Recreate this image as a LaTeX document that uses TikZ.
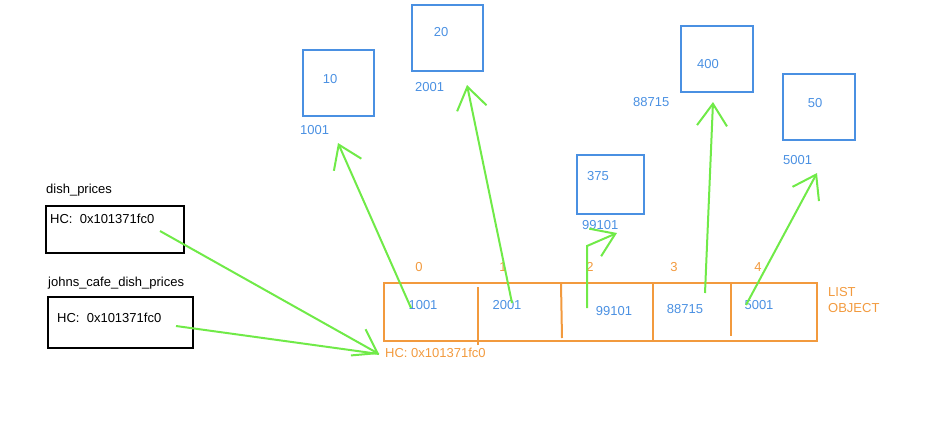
\documentclass[tikz,border=0pt]{standalone}
\usepackage{fontspec}
\setmainfont{Liberation Sans}
\usetikzlibrary{arrows.meta}

\definecolor{refblue}{RGB}{74,144,226}
\definecolor{reforange}{RGB}{242,154,62}
\definecolor{refgreen}{RGB}{112,234,72}

\tikzset{
  valbox/.style={draw=refblue,line width=2pt,inner sep=0pt},
  varbox/.style={draw,line width=2pt,inner sep=0pt},
  vartxt/.style={inner sep=0pt,anchor=base west},
  blu/.style={text=refblue,inner sep=0pt},
  org/.style={text=reforange,inner sep=0pt},
  ptr/.style={draw=refgreen,line width=2pt,-{Straight Barb[length=22pt,width=30pt,line width=2pt]}}
}

\begin{document}
\begin{tikzpicture}[x=1pt,y=-1pt,font=\fontsize{13}{15}\selectfont]
\useasboundingbox (0,0) rectangle (928,434);

\node[vartxt] (dpname) at (46,193) {dish\_prices};
\node[varbox,minimum width=138pt,minimum height=47pt] (dpbox) at (115,229.5) {};
\node[vartxt] (dphc) at (50,223) {HC:\ \ 0x101371fc0};

\node[vartxt] (jcname) at (48,286) {johns\_cafe\_dish\_prices};
\node[varbox,minimum width=145pt,minimum height=51pt] (jcbox) at (120.5,322.5) {};
\node[vartxt] (jchc) at (57,322) {HC:\ \ 0x101371fc0};

\node[draw=reforange,line width=2pt,minimum width=433pt,minimum height=58pt,inner sep=0pt] (lst) at (600.5,312) {};
\draw[reforange,line width=2pt] (478,287) -- (478,345);
\draw[reforange,line width=2pt] (561,284) -- (562,338);
\draw[reforange,line width=2pt] (653,283) -- (653,341);
\draw[reforange,line width=2pt] (731,282) -- (731,336);

\node[org] (i0) at (419,267) {0};
\node[org] (i1) at (503,267) {1};
\node[org] (i2) at (590,267) {2};
\node[org] (i3) at (674,267) {3};
\node[org] (i4) at (758,267) {4};

\node[blu] (e0) at (423,305) {1001};
\node[blu] (e1) at (507,305) {2001};
\node[blu] (e2) at (614,311) {99101};
\node[blu] (e3) at (685,309) {88715};
\node[blu] (e4) at (759,305) {5001};

\node[org,anchor=west] (lname1) at (828,292) {LIST};
\node[org,anchor=west] (lname2) at (828,308) {OBJECT};
\node[org,anchor=west] (lhc) at (385,353) {HC: 0x101371fc0};

\node[valbox,minimum width=71pt,minimum height=66pt] (b10) at (338.5,83) {};
\node[blu] (v10) at (330,79) {10};
\node[blu,anchor=west] (a10) at (300,130) {1001};

\node[valbox,minimum width=71pt,minimum height=66pt] (b20) at (447.5,38) {};
\node[blu] (v20) at (441,32) {20};
\node[blu,anchor=west] (a20) at (415,87) {2001};

\node[valbox,minimum width=67pt,minimum height=59pt] (b375) at (610.5,184.5) {};
\node[blu] (v375) at (598,176) {375};
\node[blu,anchor=west] (a375) at (582,225) {99101};

\node[valbox,minimum width=72pt,minimum height=66pt] (b400) at (717,59) {};
\node[blu] (v400) at (708,64) {400};
\node[blu,anchor=west] (a400) at (633,102) {88715};

\node[valbox,minimum width=72pt,minimum height=66pt] (b50) at (819,107) {};
\node[blu] (v50) at (815,103) {50};
\node[blu,anchor=west] (a50) at (783,160) {5001};

\coordinate (dpfrom) at (160,231);
\coordinate (jcfrom) at (176,326);
\coordinate (lsthc) at (379,354);
\coordinate (s0) at (411,308);
\coordinate (t0) at (338,143);
\coordinate (s1) at (512,303);
\coordinate (t1) at (467,85);
\coordinate (s2) at (587,308);
\coordinate (k2) at (587,246);
\coordinate (t2) at (617,233);
\coordinate (s3) at (705,293);
\coordinate (t3) at (713,102);
\coordinate (s4) at (746,305);
\coordinate (t4) at (817,173);

\path (dpfrom) edge[ptr] (lsthc);
\path (jcfrom) edge[ptr,-] (lsthc);
\path (s0) edge[ptr] (t0);
\path (s1) edge[ptr] (t1);
\draw[ptr] (s2) -- (k2) -- (t2);
\path (s3) edge[ptr] (t3);
\path (s4) edge[ptr] (t4);

\end{tikzpicture}
\end{document}
